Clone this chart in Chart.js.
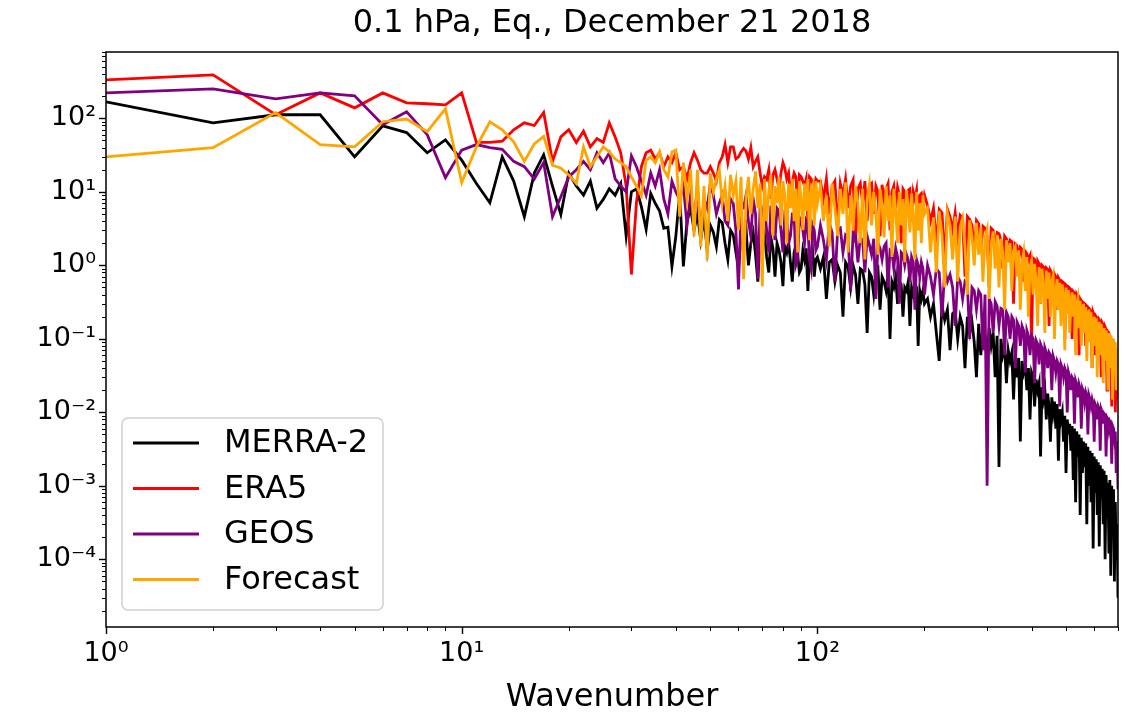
<!DOCTYPE html>
<html lang="en">

<head>
  <meta charset="utf-8">
  <title>0.1 hPa, Eq., December 21 2018</title>
  <script src="https://cdn.jsdelivr.net/npm/chart.js@4.4.0/dist/chart.umd.min.js"></script>
  <style>
    body {
      margin: 0;
      background: #fff;
    }
  </style>
</head>

<body>
  <canvas id="spectrum" width="1125" height="717"></canvas>

  <script>
    const wavenumbers = [
      1, 2, 3, 4, 5, 6, 7, 8, 9, 10, 11, 12, 13, 14, 15, 16, 17, 18, 19, 20,
      21, 22, 23, 24, 25, 26, 27, 28, 29, 30, 31, 32, 33, 34, 35, 36, 37, 38, 39, 40,
      41, 42, 43, 44, 45, 46, 47, 48, 49, 50, 51, 52, 53, 54, 55, 56, 57, 58, 59, 60,
      61, 62, 63, 64, 65, 66, 67, 68, 69, 70, 71, 72, 73, 74, 75, 76, 77, 78, 79, 80,
      81, 82, 83, 84, 85, 86, 87, 88, 89, 90, 91, 92, 93, 94, 95, 96, 97, 98, 99, 100,
      102, 104, 106, 108, 110, 112, 114, 116, 118, 120, 122, 124, 126, 128, 130, 132, 134, 136, 138, 140,
      142, 144, 146, 148, 150, 152, 154, 156, 158, 160, 162, 164, 166, 168, 170, 172, 174, 176, 178, 180,
      182, 184, 186, 188, 190, 192, 194, 196, 198, 200,
      204, 208, 212, 216, 220, 224, 228, 232, 236, 240, 244, 248, 252, 256, 260, 264, 268, 272, 276, 280,
      284, 288, 292, 296, 300, 304, 308, 312, 316, 320, 324, 328, 332, 336, 340, 344, 348, 352, 356, 360,
      364, 368, 372, 376, 380, 384, 388, 392, 396, 400, 404, 408, 412, 416, 420, 424, 428, 432, 436, 440,
      444, 448, 452, 456, 460, 464, 468, 472, 476, 480, 484, 488, 492, 496, 500, 504, 508, 512, 516, 520,
      524, 528, 532, 536, 540, 544, 548, 552, 556, 560, 564, 568, 572, 576, 580, 584, 588, 592, 596, 600,
      604, 608, 612, 616, 620, 624, 628, 632, 636, 640, 644, 648, 652, 656, 660, 664, 668, 672, 676, 680,
      684, 688, 692, 696, 700
    ];

    const merra2 = [
      168, 87, 112, 112, 30, 79, 64, 34, 51, 27, 13, 7.1, 30, 14, 4.6, 18, 32, 12, 4.9, 18,
      12, 9, 14, 6, 7.9, 11, 9, 13, 2.5, 10, 11, 6.3, 3.1, 9.5, 7, 5.5, 3.2, 3.3, 0.97, 2.5,
      9.5, 0.97, 4, 6, 3, 5, 2.2, 4.5, 1.6, 3.5, 2.8, 1.8, 4.2, 3.8, 2.0, 1.2, 3.0, 2.6, 1.5, 0.9,
      2.5, 2.2, 3.2, 1.0, 2.0, 2.8, 1.4, 0.6, 2.3, 1.9, 2.6, 1.3, 0.8, 2.4, 1.7, 0.7, 2.0, 1.6, 1.1, 0.52,
      1.8, 1.5, 2.1, 1.1, 0.6, 1.5, 1.9, 1.4, 0.8, 0.9, 1.6, 1.2, 1.7, 0.45, 1.3, 1.1, 1.5, 0.7, 1.2, 1.3,
      0.9, 1.3, 0.35, 1.1, 1.2, 0.6, 1.0, 0.8, 0.2, 1.1, 0.95, 0.5, 1.0, 0.75, 0.3, 0.9, 0.85, 0.55, 0.12, 0.8,
      0.7, 0.4, 0.8, 0.9, 0.25, 0.7, 0.6, 0.45, 0.75, 0.1, 0.6, 0.5, 0.7, 0.3, 0.6, 0.55, 0.2, 0.5, 0.45, 0.6,
      0.15, 0.5, 0.4, 0.55, 0.5, 0.08, 0.45, 0.35, 0.45, 0.3,
      0.35, 0.2, 0.3, 0.12, 0.05, 0.28, 0.18, 0.25, 0.07, 0.22, 0.24, 0.1, 0.2, 0.15, 0.04, 0.2, 0.12, 0.17, 0.09, 0.03,
      0.16, 0.06, 0.15, 0.11, 0.05, 0.14, 0.08, 0.12, 0.03, 0.11, 0.0018, 0.1, 0.06, 0.08, 0.025, 0.07, 0.05, 0.065, 0.015, 0.06,
      0.03, 0.055, 0.004, 0.05, 0.035, 0.045, 0.02, 0.04, 0.008, 0.035, 0.03, 0.012, 0.028, 0.02, 0.025, 0.0025, 0.022, 0.015, 0.02, 0.008,
      0.018, 0.012, 0.004, 0.016, 0.01, 0.014, 0.006, 0.013, 0.0022, 0.011, 0.008, 0.01, 0.004, 0.009, 0.0015, 0.008, 0.005, 0.007, 0.003, 0.0065,
      0.0012, 0.006, 6e-4, 0.0055, 0.0025, 0.005, 4e-4, 0.0045, 0.0015, 0.004, 0.0018, 0.0038, 3e-4, 0.0034, 0.001, 0.003, 6e-4, 0.0028, 1.4e-4, 0.0025,
      8e-4, 0.0023, 4e-4, 0.0021, 1.5e-4, 0.0019, 7e-4, 0.0017, 3e-4, 0.0016, 1e-4, 0.0014, 5e-4, 0.0011, 1.2e-4, 0.0012, 6e-5, 0.001, 2.5e-4, 9e-4,
      5e-5, 6e-4, 1e-4, 3e-4, 3e-5
    ];

    const era5 = [
      333, 390, 112, 222, 139, 222, 163, 158, 153, 222, 47, 47, 49, 70, 87, 80, 120, 26, 56, 70,
      47, 67, 41, 53, 47, 87, 56, 34, 12, 0.75, 7.2, 22, 34, 37, 28, 34, 22, 30, 25, 34,
      20, 22, 15, 25, 34, 27, 20, 18, 18, 22, 18, 14, 25, 30, 44, 25, 41, 41, 28, 30,
      35, 39, 36, 28, 40, 22, 26, 30, 18, 12, 16, 14.7, 20, 8, 17, 20, 15, 11, 18, 25,
      21, 15, 18, 9, 14, 18, 16, 6, 17, 16, 14, 12, 15, 4, 16, 15, 13, 10, 15, 14,
      14, 8, 15, 5, 12, 14, 3, 13, 9, 15, 6, 12, 14.5, 2, 11, 13, 7, 14, 4, 12,
      13, 5, 12, 10, 2.5, 12.5, 8, 11, 13, 3, 10, 12, 6, 11.5, 9, 2, 11, 10, 5, 10.5,
      11, 4, 10, 8, 10.5, 3, 9, 9.5, 6, 9,
      6.5, 4, 6, 2, 5.8, 5.2, 1.2, 5.8, 4.6, 3, 5.2, 2.5, 4.8, 4.4, 0.7, 4.6, 4.2, 3.5, 1.5, 4.1,
      3.7, 1.5, 3.4, 3.2, 2.5, 0.5, 3.2, 3, 1.8, 2.8, 2.7, 2.2, 0.9, 2.5, 2.3, 1.6, 2.2, 2.1, 0.3, 1.95,
      1.85, 1.2, 1.75, 1.65, 0.6, 1.55, 1.45, 1.2, 1.35, 0.08, 1.25, 1.2, 0.6, 1.15, 1.05, 0.3, 1.0, 0.95, 0.55, 0.92,
      0.88, 0.15, 0.85, 0.78, 0.45, 0.76, 0.7, 0.25, 0.68, 0.63, 0.4, 0.6, 0.58, 0.1, 0.54, 0.52, 0.25, 0.49, 0.47, 0.1,
      0.44, 0.42, 0.22, 0.4, 0.37, 0.06, 0.35, 0.33, 0.18, 0.31, 0.3, 0.08, 0.28, 0.27, 0.15, 0.25, 0.24, 0.04, 0.23, 0.21,
      0.06, 0.2, 0.19, 0.1, 0.18, 0.17, 0.03, 0.165, 0.155, 0.08, 0.145, 0.135, 0.02, 0.125, 0.12, 0.06, 0.11, 0.012, 0.1, 0.04,
      0.09, 0.01, 0.03, 0.05, 0.015
    ];

    const geos = [
      222, 252, 184, 222, 203, 82, 123, 60, 15.6, 37, 44, 40, 38, 26, 22, 15, 25, 4.6, 8.6, 16,
      20, 26, 20, 34, 25, 34, 15, 12, 10, 31, 22, 14, 9, 18, 12, 20, 8, 5, 14, 10,
      7.9, 12, 3.5, 9, 4.5, 11, 2.6, 8, 6, 13, 9, 5, 7, 9, 4, 3.5, 8, 7, 3, 0.47,
      6, 6, 9, 4, 2.5, 8, 5, 0.65, 6, 5, 7, 3, 1.5, 6.5, 4, 2.2, 6, 5.5, 3, 1.5,
      5, 4.5, 2, 2.5, 5, 5, 1.0, 1.2, 4.5, 4, 3, 2, 4, 3.5, 1.2, 0.9, 3.5, 3, 1.6, 1.8,
      3.5, 2.2, 1.2, 3.8, 2.8, 0.6, 3.0, 3.2, 1.5, 2.6, 2.4, 0.45, 2.8, 2.6, 1.1, 2.4, 2.2, 0.8, 2.5, 1.9,
      1.4, 2.3, 0.35, 2, 1.7, 1.2, 1.8, 2.0, 0.5, 1.6, 1.5, 0.9, 1.7, 1.3, 0.3, 1.5, 1.4, 1.0, 1.4, 1.2,
      0.6, 1.3, 1.1, 0.25, 1.2, 1.0, 0.7, 1.1, 0.9, 0.4,
      1.0, 0.7, 0.4, 0.9, 0.8, 0.2, 0.85, 0.6, 0.75, 0.5, 0.15, 0.7, 0.6, 0.35, 0.6, 0.55, 0.1, 0.5, 0.45, 0.25,
      0.45, 0.4, 0.07, 0.4, 0.001, 0.35, 0.3, 0.12, 0.32, 0.28, 0.15, 0.26, 0.25, 0.06, 0.23, 0.2, 0.1, 0.2, 0.18, 0.04,
      0.17, 0.15, 0.08, 0.15, 0.13, 0.035, 0.13, 0.11, 0.06, 0.11, 0.1, 0.025, 0.095, 0.085, 0.045, 0.085, 0.075, 0.015, 0.075, 0.065,
      0.04, 0.065, 0.06, 0.02, 0.058, 0.05, 0.035, 0.05, 0.045, 0.012, 0.045, 0.04, 0.03, 0.04, 0.036, 0.01, 0.035, 0.03, 0.02, 0.03,
      0.028, 0.007, 0.027, 0.024, 0.016, 0.024, 0.021, 0.006, 0.021, 0.019, 0.014, 0.019, 0.017, 0.005, 0.017, 0.015, 0.012, 0.015, 0.013, 0.004,
      0.013, 0.012, 0.008, 0.012, 0.011, 0.003, 0.011, 0.01, 0.007, 0.0095, 0.009, 0.0025, 0.0085, 0.008, 0.006, 0.0075, 0.007, 0.002, 0.0065, 0.006,
      0.0045, 0.0055, 0.0015, 0.004, 9e-4
    ];

    const forecast = [
      30, 40, 120, 44, 41, 90, 98, 66, 135, 13.4, 41, 90, 70, 48, 26, 45, 57, 23, 21, 17,
      13, 41, 22, 30, 41, 35, 28, 25, 22, 16, 12, 8.9, 27, 30, 25, 35, 20, 16, 35, 37,
      4.6, 25, 7.9, 20, 2.5, 20, 1.8, 12, 1.2, 18, 10, 15, 20, 7, 12, 4, 17, 9, 14, 3,
      16, 0.65, 8, 16, 5, 11, 19, 6, 13, 0.52, 15, 4, 10, 17, 2.5, 12, 7, 16, 3.5, 14,
      9, 2, 13, 6, 15, 4, 11, 1.5, 14, 8, 3, 13, 5.5, 15, 2.2, 10, 12, 3.5, 14, 7,
      12, 4, 9, 1.8, 13, 6, 2.5, 11, 5, 13.5, 1.5, 9, 3, 12, 7, 2, 11, 1.2, 8, 12.5,
      3.5, 10, 5, 1.4, 11, 6.5, 2.4, 12, 4, 9, 1.3, 11, 5.5, 2, 10, 3.5, 8, 1.1, 10.5, 6,
      2.8, 9.5, 4.5, 1.2, 10, 3, 7, 2, 9, 5,
      6, 1.5, 4.5, 0.8, 5.5, 2.6, 0.5, 5.2, 3.5, 1.2, 4.6, 0.6, 3.3, 4.4, 1.8, 0.4, 4.1, 2.5, 1, 3.8,
      1.4, 3.3, 0.6, 2.4, 3.1, 0.35, 1.9, 2.9, 0.9, 2.6, 0.5, 2.3, 1.5, 0.25, 2.2, 1.1, 2.0, 0.45, 1.6, 1.8,
      0.7, 1.6, 0.25, 1.1, 1.5, 0.45, 1.3, 0.2, 0.95, 1.15, 0.4, 1.05, 0.6, 0.15, 0.95, 0.3, 0.9, 0.5, 0.12, 0.85,
      0.35, 0.8, 0.2, 0.6, 0.72, 0.1, 0.45, 0.65, 0.25, 0.58, 0.15, 0.55, 0.35, 0.07, 0.5, 0.22, 0.46, 0.12, 0.3, 0.43,
      0.2, 0.4, 0.06, 0.3, 0.36, 0.14, 0.33, 0.08, 0.22, 0.3, 0.12, 0.27, 0.05, 0.18, 0.25, 0.09, 0.23, 0.04, 0.16, 0.2,
      0.08, 0.19, 0.03, 0.13, 0.17, 0.06, 0.16, 0.1, 0.025, 0.14, 0.05, 0.13, 0.09, 0.02, 0.12, 0.04, 0.11, 0.07, 0.015, 0.1,
      0.04, 0.09, 0.02, 0.075, 0.058
    ];

    const xMin = 1, xMax = 700;
    const yMin = 1.2e-5, yMax = 800;

    const sup = { '-': '\u207b', '0': '\u2070', '1': '\u00b9', '2': '\u00b2', '3': '\u00b3', '4': '\u2074',
      '5': '\u2075', '6': '\u2076', '7': '\u2077', '8': '\u2078', '9': '\u2079' };

    function powerLabel(v) {
      var e = Math.round(Math.log10(v));
      if (Math.abs(Math.log10(v) - e) > 1e-6) return '';
      return '10' + String(e).split('').map(c => sup[c]).join('');
    }

    function series(label, values, color, order) {
      return {
        label: label,
        data: wavenumbers.map((k, i) => ({ x: k, y: values[i] })),
        borderColor: color,
        backgroundColor: color,
        borderWidth: 2.8,
        pointRadius: 0,
        tension: 0,
        order: order
      };
    }

    // ticks (major/minor) and the axes frame, matplotlib style
    const framePlugin = {
      id: 'frame',
      afterDraw(chart) {
        const ctx = chart.ctx, a = chart.chartArea;
        const xs = chart.scales.x, ys = chart.scales.y;
        ctx.save();
        ctx.strokeStyle = '#000';
        for (var e = -6; e <= 3; e++) {
          for (var m = 1; m <= 9; m++) {
            var v = m * Math.pow(10, e);
            var len = m === 1 ? 7 : 4;
            ctx.lineWidth = m === 1 ? 1.4 : 1;
            if (v >= xMin && v <= xMax) {
              var px = Math.round(xs.getPixelForValue(v)) + 0.5;
              ctx.beginPath(); ctx.moveTo(px, a.bottom); ctx.lineTo(px, a.bottom + len); ctx.stroke();
            }
            if (v >= yMin && v <= yMax) {
              var py = Math.round(ys.getPixelForValue(v)) + 0.5;
              ctx.beginPath(); ctx.moveTo(a.left, py); ctx.lineTo(a.left - len, py); ctx.stroke();
            }
          }
        }
        ctx.lineWidth = 1.5;
        ctx.strokeRect(a.left, a.top, a.right - a.left, a.bottom - a.top);
        ctx.restore();
      }
    };

    // legend box in the lower left corner of the axes
    const legendPlugin = {
      id: 'boxLegend',
      afterDraw(chart) {
        const ctx = chart.ctx, a = chart.chartArea;
        const x0 = a.left + 16, w = 261, h = 192, y0 = a.bottom - 17 - h;
        ctx.save();
        ctx.beginPath();
        ctx.roundRect(x0, y0, w, h, 6);
        ctx.fillStyle = 'rgba(255,255,255,0.8)';
        ctx.fill();
        ctx.strokeStyle = '#d0d0d0';
        ctx.lineWidth = 1.5;
        ctx.stroke();
        ctx.font = '32px "DejaVu Sans"';
        ctx.textBaseline = 'middle';
        chart.data.datasets.forEach((ds, i) => {
          var yy = y0 + 25 + i * 45.5;
          ctx.strokeStyle = ds.borderColor;
          ctx.lineWidth = 3;
          ctx.beginPath(); ctx.moveTo(x0 + 11, yy); ctx.lineTo(x0 + 77, yy); ctx.stroke();
          ctx.fillStyle = '#000';
          ctx.fillText(ds.label, x0 + 102, yy + 1);
        });
        ctx.restore();
      }
    };

    Chart.defaults.font.family = '"DejaVu Sans", sans-serif';
    Chart.defaults.color = '#000';

    new Chart(document.getElementById('spectrum'), {
      type: 'line',
      data: {
        datasets: [
          series('MERRA-2', merra2, '#000000', 4),
          series('ERA5', era5, '#ff0000', 3),
          series('GEOS', geos, '#800080', 2),
          series('Forecast', forecast, '#ffa500', 1)
        ]
      },
      options: {
        responsive: false,
        animation: false,
        layout: { padding: { left: 0, right: 7, top: 0, bottom: 0 } },
        plugins: {
          legend: { display: false },
          tooltip: { enabled: false },
          title: {
            display: true,
            fullSize: false,
            text: '0.1 hPa, Eq., December 21 2018',
            font: { size: 32, weight: 'normal' },
            padding: { top: 4, bottom: 9.6 }
          }
        },
        scales: {
          x: {
            type: 'logarithmic',
            min: xMin,
            max: xMax,
            grid: { display: false, drawTicks: true, tickLength: 7 },
            border: { display: false },
            ticks: { autoSkip: false, maxRotation: 0, padding: 4, font: { size: 27 }, callback: v => powerLabel(v) },
            title: { display: true, text: 'Wavenumber', font: { size: 32 }, padding: { top: 0, bottom: 0 } },
            afterFit: s => { s.height = 90; }
          },
          y: {
            type: 'logarithmic',
            min: yMin,
            max: yMax,
            grid: { display: false, drawTicks: true, tickLength: 7 },
            border: { display: false },
            ticks: { autoSkip: false, padding: 3, font: { size: 27 }, callback: v => powerLabel(v) },
            afterFit: s => { s.width = 106; }
          }
        }
      },
      plugins: [framePlugin, legendPlugin]
    });
  </script>
</body>

</html>
